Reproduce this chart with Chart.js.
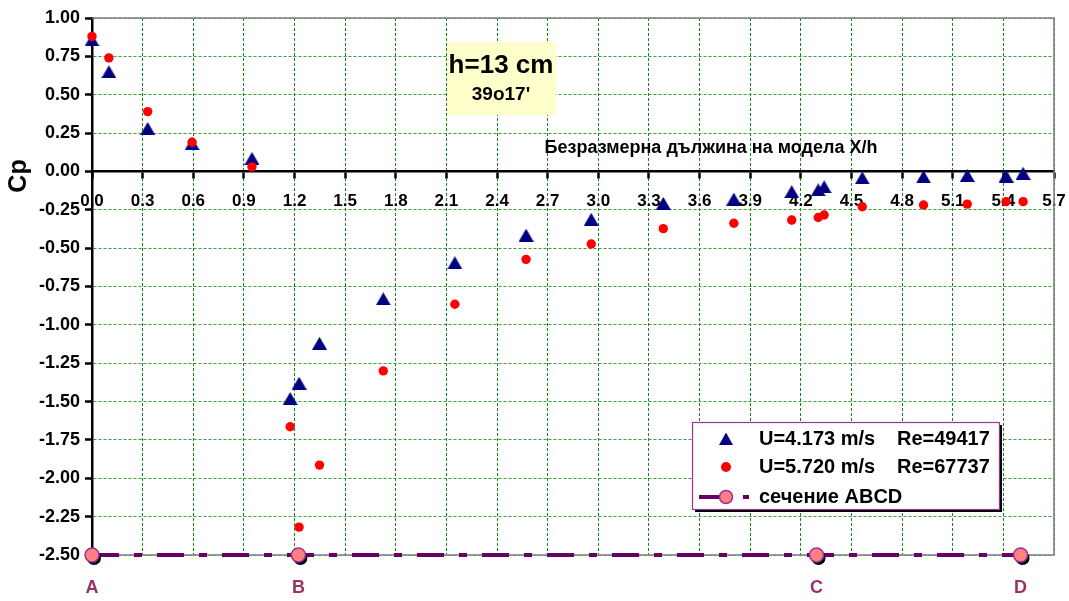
<!DOCTYPE html>
<html><head><meta charset="utf-8">
<script src="https://cdn.jsdelivr.net/npm/chart.js@4/dist/chart.umd.min.js"></script>
<style>html,body{margin:0;padding:0;background:#fff}#wrap{width:1069px;height:601px;position:relative}</style>
</head><body><div id="wrap"><canvas id="c" width="1069" height="601"></canvas></div>
<script>
// ---- data ----
const xh = [0, 0.10, 0.33, 0.593, 0.948, 1.174, 1.227, 1.348, 1.726, 2.15, 2.572, 2.958, 3.385, 3.803, 4.146, 4.303, 4.338, 4.564, 4.927, 5.186, 5.416, 5.517];
const cpU1 = [0.857, 0.65, 0.28, 0.18, 0.085, -1.48, -1.38, -1.12, -0.83, -0.595, -0.415, -0.312, -0.208, -0.18, -0.132, -0.12, -0.10, -0.042, -0.035, -0.026, -0.03, -0.012];
const cpU2 = [0.88, 0.74, 0.39, 0.19, 0.03, -1.664, -2.318, -1.914, -1.30, -0.866, -0.573, -0.473, -0.373, -0.338, -0.317, -0.30, -0.284, -0.23, -0.219, -0.213, -0.197, -0.197];
const sectionX = [0, 1.223, 4.293, 5.502];
const sectionY = [-2.5, -2.5, -2.5, -2.5];
const sectionLabels = ['A', 'B', 'C', 'D'];
const xTicks = [0, 0.3, 0.6, 0.9, 1.2, 1.5, 1.8, 2.1, 2.4, 2.7, 3.0, 3.3, 3.6, 3.9, 4.2, 4.5, 4.8, 5.1, 5.4, 5.7];
const xTickLabels = ['0.0','0.3','0.6','0.9','1.2','1.5','1.8','2.1','2.4','2.7','3.0','3.3','3.6','3.9','4.2','4.5','4.8','5.1','5.4','5.7'];
const yTicks = [1, 0.75, 0.5, 0.25, 0, -0.25, -0.5, -0.75, -1, -1.25, -1.5, -1.75, -2, -2.25, -2.5];
const yTickLabels = ['1.00','0.75','0.50','0.25','0.00','-0.25','-0.50','-0.75','-1.00','-1.25','-1.50','-1.75','-2.00','-2.25','-2.50'];
const seriesNames = ['U=4.173 m/s', 'U=5.720 m/s', 'сечение ABCD'];
const seriesRe = ['Re=49417', 'Re=67737'];
const xTitle = 'Безразмерна дължина на модела X/h';
const yTitle = 'Cp';
const noteLines = ['h=13 cm', "39o17'"];

// ---- rendering ----
const FONT = '"Liberation Sans", Arial, sans-serif';
const pts = (xs, ys) => xs.map((x, i) => ({x: x, y: ys[i]}));

function makeTriangle(w, h, color) {
  const c = document.createElement('canvas');
  c.width = w; c.height = h;
  const g = c.getContext('2d');
  g.fillStyle = color;
  g.beginPath(); g.moveTo(w / 2, 0); g.lineTo(w, h); g.lineTo(0, h); g.closePath(); g.fill();
  return c;
}
const triImg = makeTriangle(15, 13, '#000080');

const deco = {
  id: 'deco',
  beforeDatasetsDraw(chart) {
    const {ctx, chartArea: a} = chart;
    ctx.save();
    ctx.strokeStyle = '#808080'; ctx.lineWidth = 1.6; ctx.setLineDash([]);
    ctx.beginPath(); ctx.moveTo(a.left, a.top); ctx.lineTo(a.right, a.top); ctx.lineTo(a.right, a.bottom); ctx.lineTo(a.left, a.bottom); ctx.stroke();
    ctx.fillStyle = '#FFFFCC';
    ctx.fillRect(447, 42, 109, 73);
    ctx.fillStyle = '#000'; ctx.textAlign = 'center'; ctx.textBaseline = 'alphabetic';
    ctx.font = 'bold 26px ' + FONT; ctx.fillText(noteLines[0], 501, 73);
    ctx.font = 'bold 19px ' + FONT; ctx.fillText(noteLines[1], 501, 100);
    ctx.font = 'bold 18px ' + FONT; ctx.textBaseline = 'middle';
    ctx.fillText(xTitle, 711, 148);
    ctx.restore();
  },
  beforeDatasetDraw(chart, args) {
    if (args.index === 3) {
      const ctx = chart.ctx, meta = chart.getDatasetMeta(3);
      ctx.save();
      ctx.fillStyle = '#000';
      meta.data.forEach(p => { ctx.beginPath(); ctx.arc(p.x + 2, p.y + 3, 7, 0, Math.PI * 2); ctx.fill(); });
      ctx.restore();
    }
  },
  afterDatasetsDraw(chart) {
    const {ctx, scales} = chart;
    ctx.save();
    ctx.save();
    ctx.translate(19, 176); ctx.rotate(-Math.PI / 2);
    ctx.fillStyle = '#000'; ctx.font = 'bold 25px ' + FONT; ctx.textAlign = 'center'; ctx.textBaseline = 'middle';
    ctx.fillText(yTitle, 0, 0);
    ctx.restore();
    ctx.fillStyle = '#993366'; ctx.font = 'bold 18px ' + FONT; ctx.textAlign = 'center'; ctx.textBaseline = 'middle';
    sectionX.forEach((v, i) => ctx.fillText(sectionLabels[i], scales.x.getPixelForValue(v), 588));
    const L = 692, T = 422, W = 307, H = 87;
    ctx.fillStyle = '#000'; ctx.fillRect(L + 3, T + 3, W, H);
    ctx.fillStyle = '#fff'; ctx.fillRect(L, T, W, H);
    ctx.strokeStyle = '#993399'; ctx.lineWidth = 1.2; ctx.strokeRect(L + 0.5, T + 0.5, W, H);
    const rows = [439, 467, 497];
    ctx.fillStyle = '#000080';
    ctx.beginPath(); ctx.moveTo(726, rows[0] - 6.5); ctx.lineTo(733, rows[0] + 6); ctx.lineTo(719, rows[0] + 6); ctx.closePath(); ctx.fill();
    ctx.fillStyle = '#FF0000';
    ctx.beginPath(); ctx.arc(726, rows[1], 5, 0, Math.PI * 2); ctx.fill();
    ctx.strokeStyle = '#660066'; ctx.lineWidth = 4;
    ctx.beginPath(); ctx.moveTo(699, rows[2]); ctx.lineTo(726, rows[2]); ctx.moveTo(743, rows[2]); ctx.lineTo(749, rows[2]); ctx.stroke();
    ctx.fillStyle = '#FF8080'; ctx.strokeStyle = '#993399'; ctx.lineWidth = 1.5;
    ctx.beginPath(); ctx.arc(726, rows[2], 6.5, 0, Math.PI * 2); ctx.fill(); ctx.stroke();
    ctx.fillStyle = '#000'; ctx.font = 'bold 20px ' + FONT; ctx.textAlign = 'left'; ctx.textBaseline = 'middle';
    ctx.fillText(seriesNames[0], 759, rows[0]);
    ctx.fillText(seriesRe[0], 897, rows[0]);
    ctx.fillText(seriesNames[1], 759, rows[1]);
    ctx.fillText(seriesRe[1], 897, rows[1]);
    ctx.fillText(seriesNames[2], 759, rows[2]);
    ctx.restore();
  }
};

new Chart(document.getElementById('c'), {
  type: 'scatter',
  data: {
    datasets: [
      {label: seriesNames[0], data: pts(xh, cpU1), pointStyle: triImg, pointRadius: 8, pointHoverRadius: 8,
       backgroundColor: '#000080', borderColor: '#000080', borderWidth: 0, order: 3, clip: false},
      {label: seriesNames[1], data: pts(xh, cpU2), pointStyle: 'circle', pointRadius: 4.7, pointHoverRadius: 4.7,
       backgroundColor: '#FF0000', borderColor: '#FF0000', borderWidth: 0, order: 2, clip: false},
      {label: seriesNames[2], type: 'line', data: pts(sectionX, sectionY), showLine: true, borderColor: '#660066',
       borderWidth: 4, borderDash: [27, 15, 8, 15], borderCapStyle: 'butt', pointRadius: 0, fill: false, tension: 0, order: 1, clip: false},
      {label: seriesNames[2], data: pts(sectionX, sectionY), pointStyle: 'circle', pointRadius: 7, pointHoverRadius: 7,
       backgroundColor: '#FF8080', borderColor: '#993399', borderWidth: 1.5, order: 0, clip: false}
    ]
  },
  options: {
    responsive: false, animation: false, events: [],
    layout: {padding: {left: 0, top: 18, right: 15, bottom: 46}},
    plugins: {legend: {display: false}, tooltip: {enabled: false}},
    scales: {
      x: {
        type: 'linear', position: {y: 0}, min: 0, max: 5.7,
        afterBuildTicks: s => { s.ticks = xTicks.map(v => ({value: v})); },
        afterFit: s => { s.paddingLeft = 0; s.paddingRight = 0; },
        ticks: {callback: (v) => xTickLabels[xTicks.findIndex(t => Math.abs(t - v) < 1e-6)],
                font: {family: FONT, size: 17, weight: 'bold'}, color: '#000', maxRotation: 0, minRotation: 0, autoSkip: false, padding: 14},
        grid: {color: '#118811', lineWidth: 1, tickColor: '#000', tickLength: 6, tickWidth: 2.5},
        border: {color: '#000', width: 2.5, dash: [3, 2]}
      },
      y: {
        type: 'linear', position: 'left', min: -2.5, max: 1,
        afterBuildTicks: s => { s.ticks = yTicks.map(v => ({value: v})); },
        afterFit: s => { s.width = 92; },
        ticks: {callback: (v) => yTickLabels[yTicks.findIndex(t => Math.abs(t - v) < 1e-6)],
                font: {family: FONT, size: 18, weight: 'bold'}, color: '#000', padding: 5},
        grid: {color: '#3a9e3a', lineWidth: 1, tickColor: '#000', tickLength: 7, tickWidth: 2.5},
        border: {color: '#000', width: 2.5, dash: [3, 2]}
      }
    }
  },
  plugins: [deco]
});
</script>
</body></html>
